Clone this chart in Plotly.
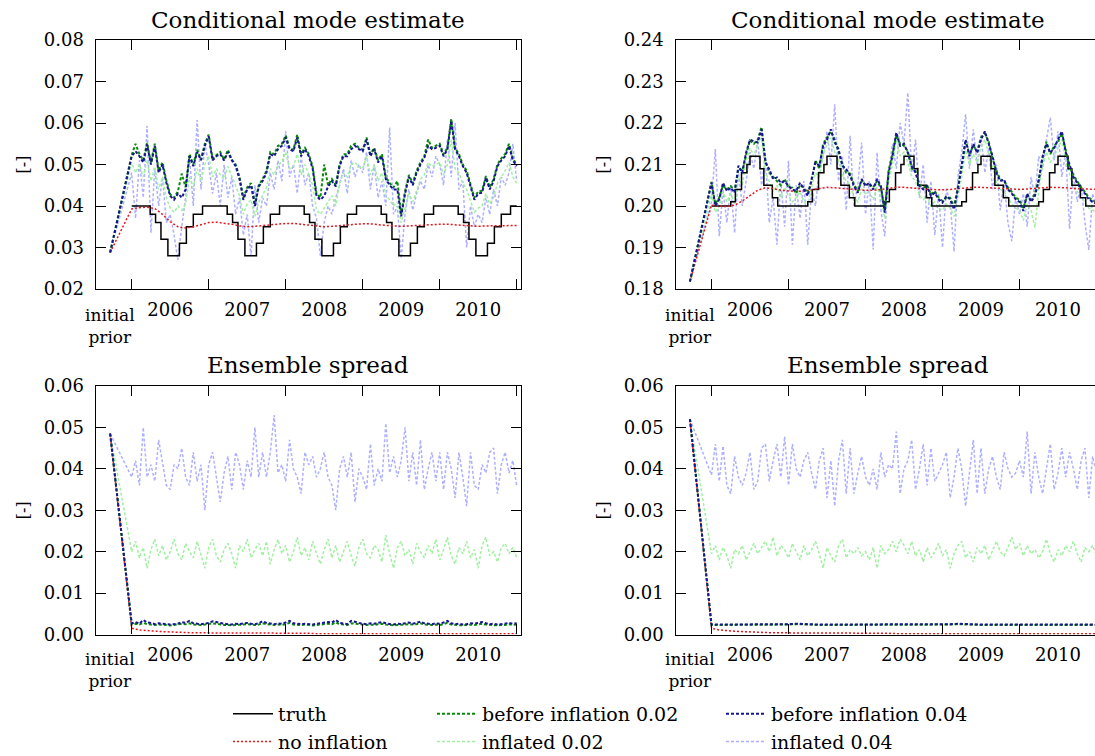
import numpy as np
import plotly.graph_objects as go

# ---------------- time axes (decimal years) ----------------
T_INIT = 2005.72                                   # "initial prior"
T_AN = list(np.round(2006 + np.arange(101) / 20, 3))  # analysis times, every 0.05 yr
T_SM = list(np.round(2006 + np.arange(51) / 10, 2))   # smooth series, every 0.1 yr
YEAR_LABELS = ["2006", "2007", "2008", "2009", "2010"]
YEAR_MID = [2006.5, 2007.5, 2008.5, 2009.5, 2010.5]
YEAR_BOUNDS = [2006, 2007, 2008, 2009, 2010, 2011]

# ---------------- top-left: conditional mode estimate ----------------
tl_init = 0.0288
tl_truth_t = [2006.00, 2006.24, 2006.31, 2006.38, 2006.47, 2006.62, 2006.71, 2006.80, 2006.92,
              2007.24, 2007.31, 2007.38, 2007.47, 2007.62, 2007.71, 2007.80, 2007.92,
              2008.24, 2008.31, 2008.38, 2008.47, 2008.62, 2008.71, 2008.80, 2008.92,
              2009.24, 2009.31, 2009.38, 2009.47, 2009.62, 2009.71, 2009.80, 2009.92,
              2010.24, 2010.31, 2010.38, 2010.47, 2010.62, 2010.71, 2010.80, 2010.92, 2011.00]
tl_truth = [.040, .038, .036, .032, .028, .031, .035, .038, .040,
            .038, .036, .032, .028, .031, .035, .038, .040,
            .038, .036, .032, .028, .031, .035, .038, .040,
            .038, .036, .032, .028, .031, .035, .038, .040,
            .038, .036, .032, .028, .031, .035, .038, .040, .040]
tl_noinf = [.0393, .0396, .0397, .0394, .0380, .0362, .0350, .0347, .0350, .0355,
            .0360, .0361, .0359, .0356, .0352, .0350, .0351, .0353, .0355, .0357,
            .0358, .0358, .0356, .0353, .0351, .0350, .0351, .0353, .0355, .0356,
            .0357, .0357, .0355, .0353, .0352, .0351, .0352, .0353, .0354, .0356,
            .0356, .0356, .0355, .0353, .0352, .0351, .0352, .0352, .0353, .0353, .0353]
tl_b02 = [.0523, .0550, .0525, .0510, .0552, .0505, .0550, .0485, .0505, .0462, .0428, .0420, .0435, .0478, .0445, .0525, .0500, .0535, .0512, .0550,
          .0572, .0515, .0522, .0530, .0512, .0535, .0512, .0500, .0470, .0420,
          .0445, .0455, .0405, .0450, .0465, .0485, .0530, .0525, .0545, .0550,
          .0570, .0540, .0535, .0572, .0525, .0540, .0525, .0495, .0430, .0420,
          .0500, .0450, .0465, .0450, .0500, .0525, .0525, .0545, .0550, .0540,
          .0535, .0565, .0525, .0540, .0510, .0525, .0470, .0455, .0445, .0460,
          .0380, .0435, .0475, .0455, .0485, .0505, .0520, .0560, .0540, .0545,
          .0550, .0525, .0540, .0610, .0540, .0525, .0500, .0485, .0450, .0420,
          .0435, .0437, .0472, .0445, .0465, .0500, .0515, .0525, .0550, .0515, .0500]
tl_i02 = [.0505, .0480, .0500, .0470, .0510, .0460, .0495, .0440, .0470, .0420, .0395, .0385, .0400, .0390, .0405, .0470, .0445, .0490, .0460, .0500,
          .0520, .0470, .0490, .0475, .0465, .0495, .0470, .0450, .0425, .0380,
          .0405, .0415, .0375, .0410, .0425, .0445, .0490, .0475, .0500, .0505,
          .0530, .0490, .0495, .0525, .0475, .0500, .0475, .0450, .0390, .0380,
          .0395, .0410, .0425, .0400, .0455, .0480, .0470, .0500, .0505, .0495,
          .0490, .0520, .0475, .0500, .0460, .0480, .0425, .0415, .0400, .0410,
          .0360, .0395, .0430, .0410, .0440, .0465, .0475, .0505, .0495, .0500,
          .0505, .0475, .0500, .0560, .0490, .0480, .0455, .0440, .0410, .0385,
          .0395, .0400, .0430, .0405, .0420, .0455, .0470, .0485, .0505, .0470, .0455]
tl_b04 = [.0520, .0532, .0520, .0505, .0548, .0500, .0545, .0480, .0500, .0456, .0424, .0415, .0430, .0420, .0440, .0520, .0496, .0530, .0510, .0545,
          .0568, .0510, .0520, .0525, .0510, .0530, .0510, .0496, .0465, .0415,
          .0440, .0450, .0400, .0447, .0460, .0480, .0525, .0520, .0537, .0545,
          .0565, .0537, .0532, .0565, .0520, .0537, .0520, .0490, .0424, .0415,
          .0424, .0447, .0460, .0447, .0496, .0520, .0520, .0537, .0545, .0537,
          .0532, .0560, .0520, .0537, .0505, .0520, .0465, .0450, .0440, .0440,
          .0375, .0430, .0470, .0450, .0480, .0500, .0516, .0545, .0537, .0540,
          .0545, .0520, .0537, .0605, .0537, .0520, .0496, .0480, .0447, .0415,
          .0430, .0432, .0468, .0440, .0460, .0496, .0510, .0520, .0545, .0510, .0496]
tl_i04 = [.0480, .0370, .0510, .0420, .0593, .0335, .0490, .0400, .0470, .0360, .0380, .0330, .0270, .0350, .0420, .0520, .0400, .0607, .0440, .0550,
          .0500, .0430, .0480, .0400, .0500, .0420, .0470, .0380, .0420, .0330,
          .0380, .0280, .0450, .0360, .0420, .0400, .0480, .0440, .0510, .0460,
          .0580, .0470, .0500, .0430, .0520, .0450, .0480, .0400, .0370, .0280,
          .0360, .0400, .0380, .0420, .0450, .0490, .0430, .0510, .0470, .0500,
          .0480, .0530, .0440, .0500, .0420, .0460, .0400, .0589, .0380, .0400,
          .0274, .0380, .0440, .0390, .0430, .0460, .0440, .0500, .0470, .0520,
          .0500, .0450, .0560, .0470, .0600, .0440, .0460, .0300, .0400, .0350,
          .0380, .0360, .0420, .0380, .0440, .0400, .0470, .0450, .0480, .0550, .0460]

# ---------------- top-right: conditional mode estimate ----------------
tr_init = 0.1818
tr_truth_t = [2006.00,
              2006.25, 2006.31, 2006.39, 2006.46, 2006.50, 2006.63, 2006.68, 2006.79, 2006.86,
              2007.25, 2007.31, 2007.39, 2007.46, 2007.50, 2007.63, 2007.68, 2007.79, 2007.86,
              2008.25, 2008.31, 2008.39, 2008.46, 2008.50, 2008.63, 2008.68, 2008.79, 2008.86,
              2009.25, 2009.31, 2009.39, 2009.46, 2009.50, 2009.63, 2009.68, 2009.79, 2009.86,
              2010.25, 2010.31, 2010.39, 2010.46, 2010.50, 2010.63, 2010.68, 2010.79, 2010.86,
              2011.00]
tr_truth = [.200,
            .201, .204, .208, .210, .212, .209, .205, .202, .200,
            .201, .204, .208, .210, .212, .209, .205, .202, .200,
            .201, .204, .208, .210, .212, .209, .205, .202, .200,
            .201, .204, .208, .210, .212, .209, .205, .202, .200,
            .201, .204, .208, .210, .212, .209, .205, .202, .200,
            .200]
tr_noinf = [.2002, .2000, .1999, .2002, .2012, .2025, .2038, .2044, .2042, .2038,
            .2036, .2035, .2036, .2039, .2043, .2045, .2044, .2042, .2040, .2039,
            .2038, .2038, .2040, .2043, .2045, .2045, .2044, .2042, .2040, .2039,
            .2039, .2040, .2042, .2044, .2045, .2045, .2044, .2042, .2041, .2040,
            .2040, .2041, .2043, .2044, .2045, .2045, .2044, .2042, .2041, .2040, .2040]
tr_b02 = [.2058, .2005, .2020, .2050, .2040, .2048, .2036, .2090, .2085, .2125, .2158, .2150, .2160, .2190, .2110, .2080, .2070, .2062, .2050, .2065,
          .2045, .2044, .2030, .2050, .2045, .2030, .2060, .2110, .2090, .2150,
          .2165, .2180, .2160, .2130, .2100, .2080, .2078, .2052, .2036, .2060,
          .2052, .2050, .2045, .2060, .2044, .1990, .2085, .2125, .2170, .2150,
          .2145, .2132, .2090, .2085, .2052, .2044, .2050, .2028, .2036, .2020,
          .2012, .2020, .2020, .1998, .2045, .2095, .2155, .2125, .2145, .2132,
          .2165, .2175, .2155, .2115, .2085, .2064, .2060, .2045, .2034, .2020,
          .2015, .1995, .2025, .2015, .2030, .2065, .2115, .2155, .2125, .2145,
          .2155, .2175, .2135, .2095, .2075, .2060, .2045, .2034, .2020, .2014, .2008]
tr_i02 = [.2030, .1985, .2000, .2035, .2010, .2030, .2005, .2070, .2050, .2110, .2140, .2120, .2150, .2165, .2080, .2060, .2035, .2050, .2020, .2045,
          .2025, .2010, .2020, .2035, .2010, .2000, .2045, .2080, .2070, .2120,
          .2150, .2165, .2130, .2110, .2075, .2060, .2050, .2020, .2010, .2040,
          .2030, .2035, .2015, .2045, .2020, .1970, .2060, .2100, .2160, .2120,
          .2130, .2105, .2070, .2060, .2025, .2015, .2025, .2000, .2010, .1995,
          .1990, .2005, .1995, .1975, .2020, .2070, .2135, .2100, .2125, .2105,
          .2140, .2160, .2125, .2095, .2055, .2040, .2035, .2020, .2005, .1995,
          .1990, .1965, .2005, .1990, .1948, .2040, .2095, .2130, .2105, .2120,
          .2140, .2160, .2110, .2075, .2045, .2035, .2020, .2010, .1995, .1990, .1985]
tr_b04 = [.2056, .2000, .2016, .2056, .2036, .2044, .2032, .2097, .2080, .2129, .2160, .2156, .2153, .2185, .2105, .2089, .2065, .2069, .2056, .2060,
          .2048, .2040, .2036, .2056, .2040, .2024, .2065, .2105, .2097, .2145,
          .2160, .2185, .2153, .2137, .2097, .2089, .2073, .2048, .2032, .2065,
          .2048, .2056, .2040, .2065, .2048, .1984, .2080, .2120, .2177, .2145,
          .2150, .2128, .2096, .2080, .2048, .2040, .2048, .2024, .2032, .2016,
          .2008, .2024, .2016, .1992, .2040, .2100, .2160, .2120, .2150, .2128,
          .2160, .2180, .2150, .2120, .2080, .2060, .2064, .2040, .2030, .2016,
          .2010, .1988, .2030, .2010, .2024, .2060, .2120, .2150, .2128, .2140,
          .2160, .2180, .2130, .2100, .2070, .2056, .2040, .2030, .2016, .2010, .2005]
tr_i04 = [.2010, .2137, .1927, .2040, .1960, .2050, .1935, .2080, .2000, .2060, .2130, .2090, .2160, .2050, .2120, .1960, .2020, .1907, .2060, .1950,
          .2109, .1907, .2050, .1970, .2060, .1907, .2040, .2000, .2090, .2120,
          .2180, .2100, .2245, .2060, .2120, .1990, .2169, .2000, .2050, .2153,
          .1980, .2060, .1895, .2129, .1990, .1927, .2080, .2150, .2090, .2200,
          .2150, .2273, .2080, .2160, .2020, .2100, .1960, .2060, .1930, .2030,
          .1900, .2040, .2010, .1890, .2070, .2130, .2221, .2090, .2185, .2100,
          .2170, .2080, .2140, .2040, .2100, .1990, .2060, .1960, .1915, .2020,
          .1980, .2030, .1950, .2070, .2020, .2120, .2090, .2160, .2213, .2110,
          .2180, .2070, .2130, .1945, .2080, .2010, .2050, .1960, .1894, .2030, .2000]

# ---------------- bottom-left: ensemble spread ----------------
bl_init = 0.0485
bl_noinf = [.0015, .0011, .0009, .0008, .0007, .0006, .0005, .0005, .0004, .0004,
            .0004, .0004, .0003, .0003, .0003, .0003, .0003, .0003, .0003, .0003,
            .0003, .0003, .0003, .0003, .0002, .0002, .0002, .0002, .0002, .0002,
            .0002, .0002, .0002, .0002, .0002, .0002, .0002, .0002, .0002, .0002,
            .0002, .0002, .0002, .0002, .0002, .0002, .0002, .0002, .0002, .0002, .0002]
bl_b02 = [.0024, .0026, .0024, .0028, .0025, .0024, .0023, .0024, .0024, .0023, .0022, .0023, .0024, .0026, .0025, .0027, .0024, .0023, .0023, .0024,
          .0025, .0027, .0026, .0024, .0023, .0023, .0022, .0023, .0023, .0024,
          .0025, .0024, .0023, .0024, .0027, .0025, .0024, .0023, .0024, .0023,
          .0025, .0028, .0024, .0023, .0023, .0024, .0023, .0022, .0023, .0024,
          .0025, .0026, .0025, .0029, .0025, .0024, .0023, .0027, .0026, .0025,
          .0024, .0023, .0024, .0023, .0025, .0026, .0024, .0023, .0022, .0023,
          .0023, .0024, .0025, .0024, .0025, .0027, .0024, .0023, .0023, .0024,
          .0023, .0025, .0028, .0024, .0023, .0023, .0022, .0023, .0024, .0023,
          .0025, .0026, .0024, .0023, .0023, .0022, .0023, .0023, .0025, .0023, .0024]
bl_i02 = [.0200, .0225, .0185, .0210, .0160, .0205, .0230, .0190, .0215, .0180, .0200, .0230, .0195, .0180, .0220, .0200, .0185, .0225, .0190, .0160,
          .0210, .0230, .0190, .0175, .0205, .0220, .0195, .0160, .0215, .0200,
          .0230, .0185, .0205, .0220, .0190, .0225, .0170, .0205, .0230, .0195,
          .0215, .0175, .0200, .0235, .0190, .0210, .0180, .0225, .0195, .0170,
          .0205, .0230, .0185, .0215, .0175, .0200, .0225, .0190, .0165, .0210,
          .0230, .0195, .0185, .0215, .0205, .0175, .0240, .0195, .0160, .0210,
          .0225, .0190, .0205, .0170, .0220, .0200, .0185, .0215, .0195, .0230,
          .0180, .0205, .0235, .0190, .0170, .0210, .0195, .0225, .0185, .0205,
          .0160, .0215, .0235, .0190, .0200, .0175, .0210, .0220, .0195, .0210, .0185]
bl_b04 = [.0027, .0030, .0026, .0035, .0029, .0028, .0025, .0027, .0026, .0025, .0024, .0025, .0026, .0030, .0028, .0033, .0027, .0026, .0025, .0026,
          .0028, .0032, .0030, .0027, .0026, .0025, .0024, .0026, .0025, .0027,
          .0028, .0026, .0025, .0027, .0032, .0028, .0026, .0025, .0027, .0026,
          .0029, .0033, .0027, .0026, .0025, .0026, .0025, .0024, .0026, .0027,
          .0028, .0030, .0029, .0035, .0028, .0026, .0025, .0033, .0030, .0028,
          .0026, .0025, .0027, .0026, .0028, .0030, .0027, .0025, .0024, .0026,
          .0025, .0027, .0029, .0026, .0028, .0031, .0027, .0026, .0025, .0027,
          .0026, .0029, .0033, .0027, .0025, .0026, .0024, .0025, .0027, .0026,
          .0028, .0030, .0027, .0025, .0026, .0024, .0025, .0026, .0028, .0026, .0027]
bl_i04 = [.0380, .0420, .0360, .0500, .0380, .0410, .0370, .0470, .0410, .0360, .0350, .0410, .0400, .0450, .0380, .0360, .0440, .0370, .0410, .0300,
          .0410, .0440, .0380, .0320, .0390, .0430, .0350, .0440, .0410, .0350,
          .0420, .0380, .0500, .0380, .0440, .0380, .0440, .0530, .0390, .0410,
          .0370, .0470, .0400, .0380, .0340, .0440, .0410, .0430, .0380, .0400,
          .0440, .0380, .0360, .0300, .0400, .0430, .0380, .0440, .0320, .0400,
          .0380, .0350, .0460, .0360, .0400, .0370, .0510, .0390, .0430, .0380,
          .0420, .0500, .0370, .0440, .0360, .0470, .0350, .0400, .0440, .0370,
          .0440, .0350, .0440, .0400, .0330, .0440, .0380, .0310, .0440, .0360,
          .0350, .0410, .0390, .0440, .0450, .0340, .0410, .0440, .0390, .0420, .0360]

# ---------------- bottom-right: ensemble spread ----------------
br_init = 0.0520
br_noinf = [.0015, .0011, .0009, .0008, .0007, .0006, .0005, .0005, .0004, .0004,
            .0004, .0004, .0003, .0003, .0003, .0003, .0003, .0003, .0003, .0003,
            .0003, .0003, .0003, .0003, .0002, .0002, .0002, .0002, .0002, .0002,
            .0002, .0002, .0002, .0002, .0002, .0002, .0002, .0002, .0002, .0002,
            .0002, .0002, .0002, .0002, .0002, .0002, .0002, .0002, .0002, .0002, .0002]
br_b02 = [.0023, .0023, .0023, .0023, .0023, .0023, .0023, .0023, .0023, .0023,
          .0024, .0025, .0024, .0023, .0023, .0023, .0023, .0023, .0023, .0023,
          .0023, .0023, .0023, .0023, .0023, .0023, .0023, .0023, .0023, .0023,
          .0024, .0024, .0025, .0024, .0023, .0023, .0023, .0023, .0023, .0023,
          .0023, .0023, .0023, .0023, .0023, .0023, .0023, .0023, .0023, .0023, .0023]
br_i02 = [.0195, .0215, .0180, .0210, .0190, .0160, .0205, .0195, .0215, .0180, .0200, .0220, .0195, .0210, .0225, .0200, .0235, .0190, .0215, .0205,
          .0185, .0220, .0200, .0180, .0215, .0190, .0205, .0225, .0195, .0160,
          .0210, .0190, .0175, .0215, .0230, .0185, .0205, .0195, .0210, .0190,
          .0200, .0180, .0210, .0160, .0215, .0195, .0205, .0225, .0200, .0230,
          .0215, .0195, .0225, .0190, .0205, .0175, .0210, .0185, .0200, .0220,
          .0190, .0205, .0160, .0195, .0215, .0225, .0185, .0200, .0175, .0210,
          .0195, .0215, .0180, .0205, .0225, .0200, .0190, .0210, .0235, .0205,
          .0220, .0190, .0215, .0195, .0205, .0185, .0200, .0230, .0195, .0175,
          .0205, .0190, .0215, .0200, .0225, .0195, .0175, .0210, .0200, .0215, .0190]
br_b04 = [.0024, .0024, .0024, .0024, .0024, .0024, .0024, .0024, .0024, .0024,
          .0025, .0026, .0025, .0024, .0024, .0024, .0024, .0024, .0024, .0024,
          .0024, .0024, .0024, .0024, .0024, .0024, .0024, .0024, .0024, .0024,
          .0025, .0025, .0026, .0025, .0024, .0024, .0024, .0024, .0024, .0024,
          .0024, .0024, .0024, .0024, .0024, .0025, .0024, .0024, .0024, .0024, .0024]
br_i04 = [.0385, .0460, .0370, .0455, .0360, .0340, .0430, .0380, .0360, .0390, .0440, .0350, .0370, .0450, .0460, .0370, .0420, .0460, .0380, .0478,
          .0360, .0460, .0400, .0380, .0420, .0440, .0390, .0350, .0420, .0450,
          .0330, .0420, .0310, .0420, .0470, .0340, .0450, .0340, .0390, .0430,
          .0380, .0360, .0400, .0350, .0440, .0380, .0410, .0400, .0490, .0340,
          .0400, .0420, .0470, .0350, .0400, .0460, .0360, .0450, .0370, .0390,
          .0410, .0440, .0330, .0380, .0450, .0400, .0310, .0390, .0470, .0340,
          .0450, .0340, .0400, .0430, .0380, .0350, .0440, .0400, .0380, .0390,
          .0420, .0380, .0490, .0340, .0440, .0380, .0340, .0400, .0460, .0350,
          .0390, .0450, .0380, .0440, .0400, .0350, .0420, .0450, .0330, .0430, .0390]

# ---------------- styles ----------------
NAMES = {"truth": "truth", "noinf": "no inflation",
         "b02": "before inflation 0.02", "i02": "inflated 0.02",
         "b04": "before inflation 0.04", "i04": "inflated 0.04"}
STYLE = {"truth": dict(color="black", width=1.5, dash="solid"),
         "noinf": dict(color="#e8141c", width=1.5, dash="2px,2px"),
         "b02": dict(color="#0a8a0a", width=2, dash="3px,2px"),
         "i02": dict(color="#a0f0a0", width=1.5, dash="3px,2px"),
         "b04": dict(color="#16168f", width=2, dash="3px,2px"),
         "i04": dict(color="#aeb0ff", width=1.5, dash="3px,2px")}
LEGEND_OF = {"truth": "legend", "noinf": "legend", "b02": "legend2", "i02": "legend2",
             "b04": "legend3", "i04": "legend3"}
RANK = {"truth": 1, "noinf": 2, "b02": 1, "i02": 2, "b04": 1, "i04": 2}

fig = go.Figure()


def add(key, x, y, xa, ya, show):
    fig.add_trace(go.Scatter(
        x=x, y=y, mode="lines", name=NAMES[key], line=STYLE[key],
        line_shape="hv" if key == "truth" else "linear",
        xaxis=xa, yaxis=ya, legend=LEGEND_OF[key], legendrank=RANK[key],
        showlegend=show, hoverinfo="skip"))


panels = [
    ("x", "y", tl_init, tl_truth_t, tl_truth, tl_noinf, tl_b02, tl_i02, tl_b04, tl_i04, True),
    ("x2", "y2", tr_init, tr_truth_t, tr_truth, tr_noinf, tr_b02, tr_i02, tr_b04, tr_i04, False),
]
for xa, ya, init, tt, tv, noinf, b02, i02, b04, i04, show in panels:
    add("i04", [T_INIT] + T_AN, [init] + i04, xa, ya, show)
    add("i02", [T_INIT] + T_AN, [init] + i02, xa, ya, show)
    add("truth", tt, tv, xa, ya, show)
    add("noinf", [T_INIT] + T_SM, [init] + noinf, xa, ya, show)
    add("b02", [T_INIT] + T_AN, [init] + b02, xa, ya, show)
    add("b04", [T_INIT] + T_AN, [init] + b04, xa, ya, show)

# spread panels
add("i04", [T_INIT] + T_AN, [bl_init] + bl_i04, "x3", "y3", False)
add("i02", [T_INIT] + T_AN, [bl_init] + bl_i02, "x3", "y3", False)
add("noinf", [T_INIT] + T_SM, [bl_init] + bl_noinf, "x3", "y3", False)
add("b02", [T_INIT] + T_AN, [bl_init] + bl_b02, "x3", "y3", False)
add("b04", [T_INIT] + T_AN, [bl_init] + bl_b04, "x3", "y3", False)

add("i04", [T_INIT] + T_AN, [br_init] + br_i04, "x4", "y4", False)
add("i02", [T_INIT] + T_AN, [br_init] + br_i02, "x4", "y4", False)
add("noinf", [T_INIT] + T_SM, [br_init] + br_noinf, "x4", "y4", False)
add("b02", [T_INIT] + T_SM, [br_init] + br_b02, "x4", "y4", False)
add("b04", [T_INIT] + T_SM, [br_init] + br_b04, "x4", "y4", False)

# ---------------- layout ----------------
W, H = 1095, 756
SERIF = "DejaVu Serif"
TICK_SIZE, TITLE_SIZE, LEG_SIZE, SMALL_SIZE = 18, 23, 19, 17
YEAR_PX = 77.0
X0 = 2006 - 36 / YEAR_PX


def px(v):
    return v / W


def py(v):
    return 1 - v / H


xl_dom = [px(95.7), px(520.7)]
xr_dom = [px(675.5), 1.0]
yt_dom = [py(289), py(40)]
yb_dom = [py(634.5), py(386)]


def xaxis(dom, anchor):
    width_px = (dom[1] - dom[0]) * W
    return dict(domain=dom, anchor=anchor, range=[X0, X0 + width_px / YEAR_PX],
                showline=True, linecolor="black", linewidth=1.3, mirror="ticks",
                showgrid=False, zeroline=False,
                tickmode="array", tickvals=YEAR_MID, ticktext=YEAR_LABELS, ticks="",
                ticklabelstandoff=4,
                tickfont=dict(family=SERIF, size=TICK_SIZE, color="black"),
                minor=dict(tickmode="array", tickvals=YEAR_BOUNDS, ticks="inside",
                           ticklen=10, tickwidth=1.3, tickcolor="black", showgrid=False),
                automargin=False)


def yaxis(dom, anchor, rng, mirror):
    return dict(domain=dom, anchor=anchor, range=rng,
                showline=True, linecolor="black", linewidth=1.3,
                mirror="ticks" if mirror else False,
                showgrid=False, zeroline=False,
                tickmode="linear", tick0=rng[0], dtick=0.01, tickformat=".2f",
                ticks="inside", ticklen=10, tickwidth=1.3, tickcolor="black",
                ticklabelstandoff=7,
                tickfont=dict(family=SERIF, size=TICK_SIZE, color="black"),
                title=dict(text="[-]", font=dict(family=SERIF, size=16, color="black"), standoff=10),
                automargin=False)


legend_common = dict(orientation="v", xanchor="left", yanchor="top", itemwidth=40,
                     font=dict(family=SERIF, size=LEG_SIZE, color="black"),
                     bgcolor="rgba(0,0,0,0)", tracegroupgap=0, traceorder="normal")

fig.update_layout(
    width=W, height=H, margin=dict(l=0, r=0, t=0, b=0, autoexpand=False),
    paper_bgcolor="white", plot_bgcolor="white", showlegend=True,
    font=dict(family=SERIF, color="black"),
    xaxis=xaxis(xl_dom, "y"), yaxis=yaxis(yt_dom, "x", [0.02, 0.08], True),
    xaxis2=xaxis(xr_dom, "y2"), yaxis2=yaxis(yt_dom, "x2", [0.18, 0.24], False),
    xaxis3=xaxis(xl_dom, "y3"), yaxis3=yaxis(yb_dom, "x3", [0.0, 0.06], True),
    xaxis4=xaxis(xr_dom, "y4"), yaxis4=yaxis(yb_dom, "x4", [0.0, 0.06], False),
    legend=dict(legend_common, x=px(228), y=py(695)),
    legend2=dict(legend_common, x=px(432), y=py(695)),
    legend3=dict(legend_common, x=px(721), y=py(695)),
)

annotations = []
for xc, yc, text in [(308, 20, "Conditional mode estimate"), (888, 20, "Conditional mode estimate"),
                     (308, 365, "Ensemble spread"), (888, 365, "Ensemble spread")]:
    annotations.append(dict(x=px(xc), y=py(yc), xref="paper", yref="paper", text=text,
                            showarrow=False, xanchor="center", yanchor="middle",
                            font=dict(family=SERIF, size=TITLE_SIZE, color="black")))
for xa, yc in [("x", 326), ("x2", 326), ("x3", 670), ("x4", 670)]:
    annotations.append(dict(x=T_INIT, y=py(yc), xref=xa, yref="paper", text="initial<br>prior",
                            showarrow=False, xanchor="center", yanchor="middle",
                            font=dict(family=SERIF, size=SMALL_SIZE, color="black")))
fig.update_layout(annotations=annotations)

fig.write_html("out.html")
